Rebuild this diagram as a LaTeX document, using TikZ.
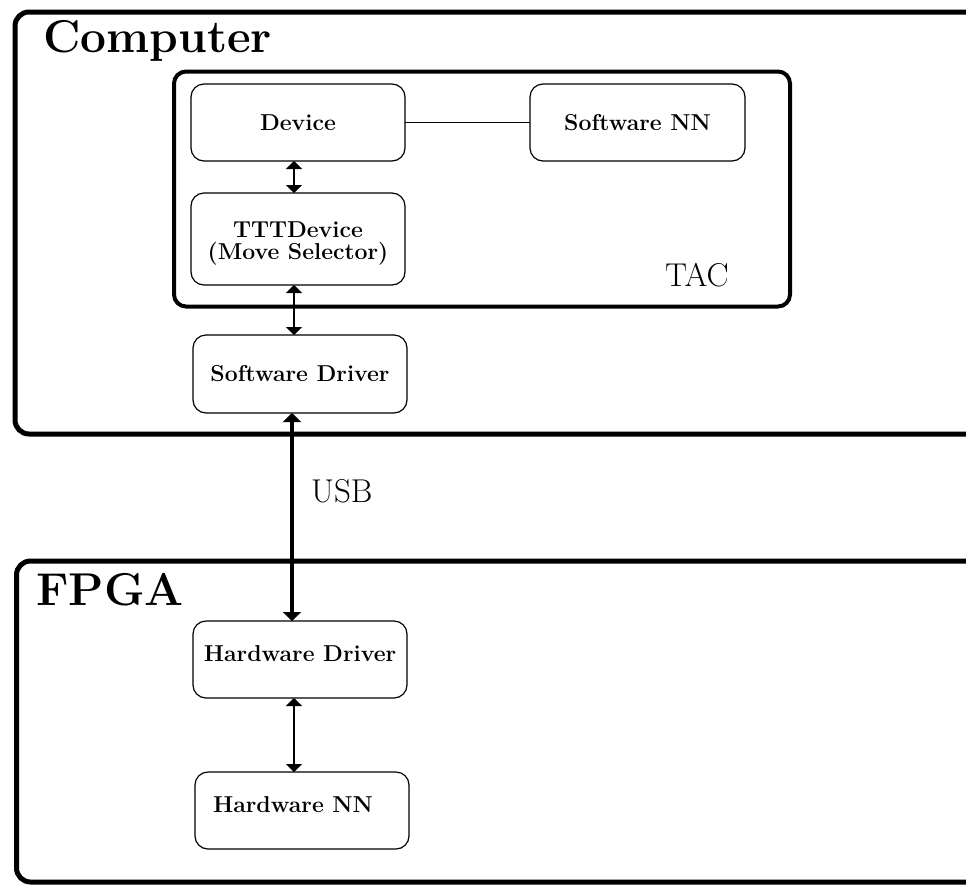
\documentclass[tikz,border=0pt]{standalone}
\usetikzlibrary{arrows.meta}
\begin{document}
\begin{tikzpicture}[x=1pt,y=-1pt,
  box/.style={draw, line width=1.2pt, rounded corners=13pt, minimum width=214pt,
    minimum height=77pt, inner sep=0pt, outer sep=0pt,
    font=\fontsize{23}{22}\selectfont\bfseries, text height=15pt, text depth=0pt},
  raised/.style={text depth=12pt},
  container/.style={draw, line width=5pt, rounded corners=14pt},
  innerbox/.style={draw, line width=4pt, rounded corners=12pt},
  conn/.style={line width=2pt, {Triangle[width=16pt,length=8pt]}-{Triangle[width=16pt,length=8pt]}},
  usbline/.style={line width=3.5pt, {Triangle[width=18pt,length=9pt]}-{Triangle[width=18pt,length=9pt]}},
  biglabel/.style={font=\fontsize{46}{46}\selectfont\bfseries, inner sep=0pt, anchor=base west},
  midlabel/.style={font=\fontsize{33}{33}\selectfont, inner sep=0pt, anchor=base west}
]
\useasboundingbox (0,0) rectangle (966,884);
\fill[white] (0,0) rectangle (966,884);
\begin{scope}
\clip (0,0) rectangle (966,884);
% containers
\draw[container] (15,12) rectangle (995,434);
\draw[container] (16.5,561) rectangle (995,882);
\draw[innerbox] (174,71.5) rectangle (790,306.5);

% labels
\node[biglabel] (comp) at (43,52) {Computer};
\node[biglabel] (fpga) at (36,605) {FPGA};
\node[midlabel] (tac) at (665,286) {TAC};
\node[midlabel] (usb) at (311,502) {USB};

% boxes
\node[box] (dev) at (298,122.5) {Device};
\node[box, minimum width=215pt] (snn) at (637.5,122.5) {Software NN};
\node[box, minimum height=92pt, align=center, text height=, text depth=] (ttt) at (298,239)
  {\rule{0pt}{24pt}TTTDevice\\(Move Selector)};
\node[box, minimum height=78pt] (swd) at (300,374) {Software Driver};
\node[box, raised] (hwd) at (300,659.5) {Hardware Driver};
\node[box, raised] (hwnn) at (302,810.5) {\hspace*{-18pt}Hardware NN};

% connectors
\draw[line width=1.2pt] (dev.east) -- (snn.west);
\draw[conn] ([xshift=-4pt]dev.south) -- ([xshift=-4pt]dev.south |- ttt.north);
\draw[conn] ([xshift=-4pt]ttt.south) -- ([xshift=-4pt]ttt.south |- swd.north);
\draw[usbline] ([xshift=-8pt]swd.south) -- ([xshift=-8pt]swd.south |- hwd.north);
\draw[conn] ([xshift=-6pt]hwd.south) -- ([xshift=-6pt]hwd.south |- hwnn.north);
\end{scope}
\end{tikzpicture}
\end{document}
